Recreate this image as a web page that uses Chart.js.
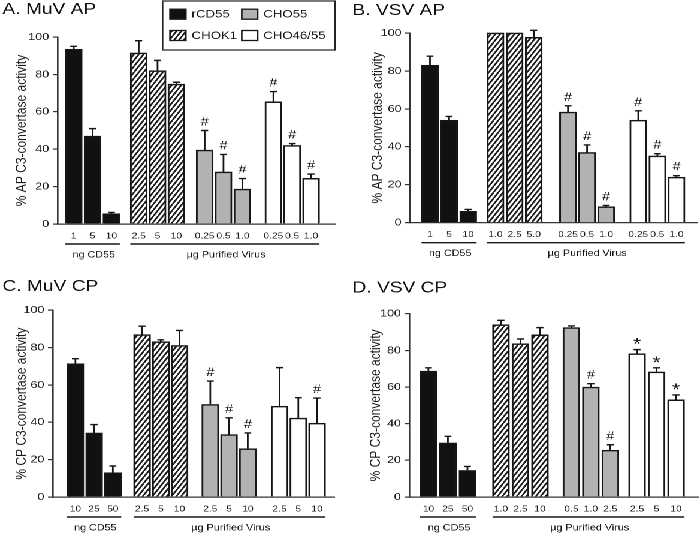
<!DOCTYPE html>
<html>
<head>
<meta charset="utf-8">
<title>C3-convertase activity</title>
<script src="https://cdn.jsdelivr.net/npm/chart.js@4.4.1/dist/chart.umd.min.js"></script>
<style>
  body { margin: 0; background: #fff; }
  /* the figure is drawn at 584 px wide and stretched to 700, like the reference */
  #figure { position: relative; width: 584px; height: 534px; transform: scaleX(1.1986); transform-origin: 0 0; }
  #figure canvas { position: absolute; }
</style>
</head>
<body>
<div id="figure">
  <canvas id="panelA" width="292" height="267" style="left:0;top:0"></canvas>
  <canvas id="panelB" width="292" height="267" style="left:292px;top:0"></canvas>
  <canvas id="panelC" width="292" height="267" style="left:0;top:267px"></canvas>
  <canvas id="panelD" width="292" height="267" style="left:292px;top:267px"></canvas>
</div>
<script>
const groups = ['rCD55', 'CHOK1', 'CHO55', 'CHO46/55'];
const groupAxisLabels = ['ng CD55', 'µg Purified Virus'];

// A. MuV AP
const muvApDose = ['1', '5', '10', '2.5', '5', '10', '0.25', '0.5', '1.0', '0.25', '0.5', '1.0'];
const muvApMean = [93.5, 47, 5.5, 91.5, 82, 74.8, 39.5, 27.8, 18.7, 65.3, 42, 24.4];
const muvApSem = [1.5, 4, 0.7, 6.5, 5.5, 1, 10.5, 9.4, 5.6, 5.5, 1, 2.3];
const muvApMark = ['', '', '', '', '', '', '#', '#', '#', '#', '#', '#'];

// B. VSV AP
const vsvApDose = ['1', '5', '10', '1.0', '2.5', '5.0', '0.25', '0.5', '1.0', '0.25', '0.5', '1.0'];
const vsvApMean = [83, 54, 6, 100, 100, 97.7, 58.3, 37, 8.4, 54, 35.2, 24];
const vsvApSem = [4.8, 2, 1, 0, 0, 3.7, 3.3, 4, 0.7, 5, 1.2, 0.8];
const vsvApMark = ['', '', '', '', '', '', '#', '#', '#', '#', '#', '#'];

// C. MuV CP
const muvCpDose = ['10', '25', '50', '2.5', '5', '10', '2.5', '5', '10', '2.5', '5', '10'];
const muvCpMean = [71.4, 34.3, 13, 87, 83.2, 81.2, 49.6, 33.4, 25.9, 48.6, 42.3, 39.5];
const muvCpSem = [2.7, 4.5, 3.6, 4.5, 1, 8, 12.5, 9, 8.4, 20.7, 10.9, 13.5];
const muvCpMark = ['', '', '', '', '', '', '#', '#', '#', '', '', '#'];

// D. VSV CP
const vsvCpDose = ['10', '25', '50', '1.0', '2.5', '10', '0.5', '1.0', '2.5', '2.5', '5', '10'];
const vsvCpMean = [68.7, 29.5, 14.5, 94, 83.6, 88.5, 92.4, 60, 25.5, 78.2, 68.2, 53];
const vsvCpSem = [1.8, 3.6, 2.2, 2.4, 2.6, 3.9, 0.9, 1.8, 3, 2.2, 2.3, 2.7];
const vsvCpMark = ['', '', '', '', '', '', '', '#', '#', '*', '*', '*'];

Chart.defaults.font.family = '"Liberation Sans", Arial, sans-serif';
Chart.defaults.color = '#1a1a1a';

const INK = '#161616';

function hatchPattern() {
  const tile = document.createElement('canvas');
  tile.width = 8;
  tile.height = 12;
  const t = tile.getContext('2d');
  t.fillStyle = '#fff';
  t.fillRect(0, 0, 8, 12);
  t.strokeStyle = INK;
  t.lineWidth = 3;
  t.beginPath();
  [-8, 0, 8].forEach(dx => { t.moveTo(dx, 12); t.lineTo(dx + 8, 0); });
  t.stroke();
  const pat = t.createPattern(tile, 'repeat');
  pat.setTransform(new DOMMatrix([0.5, 0, 0, 0.5, 0, 0]));
  return pat;
}

const fills = ['#111', hatchPattern(), '#b2b2b2', '#fff'];

// error bars (upper half only) and significance marks
const errorBars = {
  id: 'errorBars',
  afterDatasetsDraw(chart) {
    const { ctx } = chart;
    const y = chart.scales.y;
    chart.data.datasets.forEach((ds, di) => {
      chart.getDatasetMeta(di).data.forEach((bar, i) => {
        const top = y.getPixelForValue(ds.data[i].y + ds.sem[i]);
        ctx.save();
        ctx.strokeStyle = INK;
        ctx.lineWidth = 1.4;
        if (ds.sem[i] > 0) {
          ctx.beginPath();
          ctx.moveTo(bar.x, bar.y);
          ctx.lineTo(bar.x, top);
          ctx.moveTo(bar.x - 2.9, top);
          ctx.lineTo(bar.x + 2.9, top);
          ctx.stroke();
        }
        const m = ds.mark[i];
        if (m) {
          ctx.fillStyle = INK;
          ctx.textAlign = 'center';
          ctx.textBaseline = 'alphabetic';
          ctx.font = (m === '*' ? '17px' : '12px') + ' "Liberation Sans", Arial, sans-serif';
          ctx.fillText(m, bar.x, top - (m === '*' ? 0 : 5));
        }
        ctx.restore();
      });
    });
  }
};

// underlines and labels below the dose ticks
const groupAxis = {
  id: 'groupAxis',
  afterDraw(chart) {
    const { ctx, chartArea } = chart;
    const half = chart.data.datasets[0].barThickness / 2;
    const spans = [[0, 0, groupAxisLabels[0]], [1, 3, groupAxisLabels[1]]];
    ctx.save();
    spans.forEach(([d0, d1, text]) => {
      const first = chart.getDatasetMeta(d0).data[0];
      const bars = chart.getDatasetMeta(d1).data;
      const last = bars[bars.length - 1];
      const x0 = first.x - half, x1 = last.x + half;
      const yLine = chartArea.bottom + 20;
      ctx.strokeStyle = INK;
      ctx.lineWidth = 1.4;
      ctx.beginPath();
      ctx.moveTo(x0, yLine);
      ctx.lineTo(x1, yLine);
      ctx.stroke();
      ctx.fillStyle = INK;
      ctx.font = '9px "Liberation Sans", Arial, sans-serif';
      ctx.textAlign = 'center';
      ctx.textBaseline = 'middle';
      ctx.fillText(text, (x0 + x1) / 2 + 1, chartArea.bottom + 31);
    });
    ctx.restore();
  }
};

// boxed 2x2 legend in the first panel
const boxLegend = {
  id: 'boxLegend',
  afterDraw(chart) {
    const { ctx } = chart;
    const box = [135.7, 1, 279.5, 50];
    const cols = [141.8, 201.7];
    const rows = [14.2, 35.5];
    ctx.save();
    ctx.fillStyle = '#fff';
    ctx.fillRect(box[0], box[1], box[2] - box[0], box[3] - box[1]);
    ctx.strokeStyle = '#222';
    ctx.lineWidth = 1.2;
    ctx.strokeRect(box[0], box[1], box[2] - box[0], box[3] - box[1]);
    ctx.font = '11px "Liberation Sans", Arial, sans-serif';
    ctx.textBaseline = 'middle';
    chart.data.datasets.forEach((ds, i) => {
      const sx = cols[Math.floor(i / 2)], sy = rows[i % 2];
      ctx.fillStyle = ds.backgroundColor;
      ctx.fillRect(sx, sy - 5, 13.3, 10);
      ctx.strokeStyle = INK;
      ctx.lineWidth = 1.3;
      ctx.strokeRect(sx, sy - 5, 13.3, 10);
      ctx.fillStyle = INK;
      ctx.fillText(ds.label, sx + 18, sy + 0.5);
    });
    ctx.restore();
  }
};

const panels = [
  { id: 'panelA', title: 'A. MuV AP', yTitle: '% AP C3-convertase activity',
    dose: muvApDose, mean: muvApMean, sem: muvApSem, mark: muvApMark, legend: true,
    layout: { titleTop: 0, top: 37, bottom: 224, left: 48, right: 279.5, yTitleX: 18.4,
              xMin: -0.86, xMax: 13.87, slots: [0, 1, 2, 3.45, 4.45, 5.45, 6.95, 7.95, 8.95, 10.6, 11.6, 12.6] } },
  { id: 'panelB', title: 'B. VSV AP', yTitle: '% AP C3-convertase activity',
    dose: vsvApDose, mean: vsvApMean, sem: vsvApSem, mark: vsvApMark,
    layout: { titleTop: 1, top: 33, bottom: 222.7, left: 50, right: 289.3, yTitleX: 23,
              xMin: -1.05, xMax: 13.96, slots: [0, 1, 2, 3.43, 4.43, 5.43, 7.22, 8.22, 9.22, 10.9, 11.9, 12.9] } },
  { id: 'panelC', title: 'C. MuV CP', yTitle: '% CP C3-convertase activity',
    dose: muvCpDose, mean: muvCpMean, sem: muvCpSem, mark: muvCpMark,
    layout: { titleTop: 10, top: 43.3, bottom: 230, left: 44, right: 278.9, yTitleX: 18.1,
              xMin: -1.21, xMax: 13.82, slots: [0, 1, 2, 3.56, 4.56, 5.56, 7.2, 8.2, 9.2, 10.9, 11.9, 12.9] } },
  { id: 'panelD', title: 'D. VSV CP', yTitle: '% CP C3-convertase activity',
    dose: vsvCpDose, mean: vsvCpMean, sem: vsvCpSem, mark: vsvCpMark,
    layout: { titleTop: 11.5, top: 46.7, bottom: 230, left: 49.5, right: 290.6, yTitleX: 21.5,
              xMin: -0.98, xMax: 13.84, slots: [0, 1, 2, 3.72, 4.72, 5.72, 7.33, 8.33, 9.33, 10.7, 11.7, 12.7] } }
];

panels.forEach(p => {
  const L = p.layout;
  const datasets = groups.map((name, g) => {
    const idx = [g * 3, g * 3 + 1, g * 3 + 2];
    return {
      label: name,
      data: idx.map(i => ({ x: L.slots[i], y: p.mean[i] })),
      sem: idx.map(i => p.sem[i]),
      mark: idx.map(i => p.mark[i]),
      backgroundColor: fills[g],
      borderColor: INK,
      borderWidth: 1.5,
      barThickness: 14,
      grouped: false,
      clip: false
    };
  });

  new Chart(document.getElementById(p.id), {
    type: 'bar',
    data: { datasets },
    plugins: p.legend ? [errorBars, groupAxis, boxLegend] : [errorBars, groupAxis],
    options: {
      responsive: false,
      devicePixelRatio: 2,
      animation: false,
      layout: { padding: { top: 0, right: 292 - L.right, bottom: 0, left: 2 } },
      plugins: {
        legend: { display: false },
        tooltip: { enabled: false },
        title: {
          display: true,
          text: p.title,
          align: 'start',
          color: '#111',
          font: { size: 16, weight: 'normal' },
          padding: { top: L.titleTop, bottom: L.top - L.titleTop - 19.2 }
        }
      },
      scales: {
        x: {
          type: 'linear',
          min: L.xMin,
          max: L.xMax,
          bounds: 'data',
          offset: false,
          afterBuildTicks: s => { s.ticks = L.slots.map(v => ({ value: v })); },
          afterFit: s => { s.height = 267 - L.bottom; },
          grid: { display: false, drawTicks: false },
          border: { color: '#333', width: 1.3 },
          ticks: {
            autoSkip: false,
            maxRotation: 0,
            padding: 7,
            font: { size: 8.5 },
            callback: (v, i) => p.dose[i]
          }
        },
        y: {
          min: 0,
          max: 100,
          ticks: { stepSize: 20, padding: 3, font: { size: 10.5 } },
          grid: { drawOnChartArea: false, drawTicks: true, tickLength: 4, color: '#333', lineWidth: 1.2 },
          border: { color: '#333', width: 1.3 },
          title: {
            display: true,
            text: p.yTitle,
            font: { size: 12 },
            padding: { top: L.yTitleX - 2 - 7.2, bottom: 0 }
          },
          afterFit: s => { s.width = L.left - 2; }
        }
      }
    }
  });
});
</script>
</body>
</html>
